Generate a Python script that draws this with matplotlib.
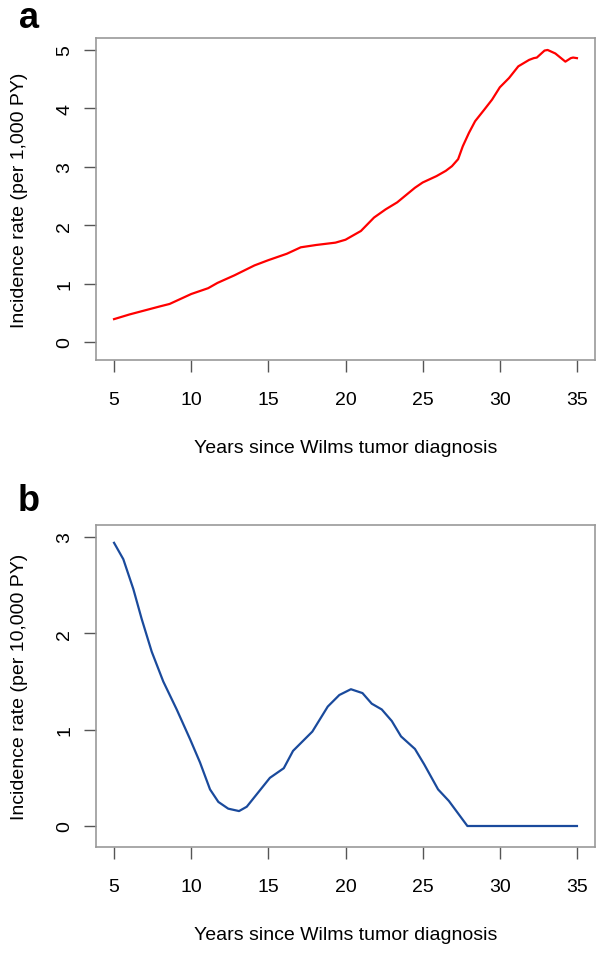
import matplotlib.pyplot as plt

plt.rcParams['font.family'] = ['Liberation Sans', 'DejaVu Sans']

# panel a: incidence rate per 1,000 PY
years_a = [5.0, 6.0, 7.0, 8.0, 8.6, 10.0, 11.1, 11.7, 12.8, 14.1, 15.0, 16.2, 17.1,
           18.1, 19.35, 20.0, 21.0, 21.85, 22.6, 23.35, 24.5, 25.0, 25.9, 26.5,
           26.9, 27.3, 27.6, 28.0, 28.4, 29.0, 29.5, 30.0, 30.6, 31.2, 31.9, 32.2,
           32.4, 32.9, 33.1, 33.6, 34.25, 34.6, 34.75, 35.0]
rate_a = [0.39, 0.47, 0.54, 0.61, 0.65, 0.82, 0.92, 1.01, 1.14, 1.31, 1.40, 1.51, 1.62,
          1.66, 1.70, 1.75, 1.90, 2.13, 2.27, 2.39, 2.64, 2.73, 2.84, 2.93,
          3.01, 3.13, 3.35, 3.58, 3.78, 3.98, 4.15, 4.36, 4.52, 4.72, 4.83, 4.86,
          4.87, 4.99, 5.00, 4.94, 4.80, 4.86, 4.87, 4.86]

# panel b: incidence rate per 10,000 PY
years_b = [5.0, 5.6, 6.25, 6.79, 7.44, 8.19, 9.06, 9.93, 10.57, 11.22, 11.76, 12.4, 13.1,
           13.6, 15.1, 16.0, 16.6, 17.85, 18.85, 19.6, 20.35, 21.1, 21.7, 22.35,
           23.0, 23.6, 24.5, 25.1, 26.0, 26.7, 27.9, 35.0]
rate_b = [2.94, 2.77, 2.46, 2.15, 1.81, 1.50, 1.21, 0.90, 0.66, 0.38, 0.25, 0.18, 0.155,
          0.20, 0.50, 0.60, 0.78, 0.98, 1.24, 1.36, 1.42, 1.38, 1.27, 1.21,
          1.09, 0.93, 0.80, 0.64, 0.38, 0.26, 0.0, 0.0]

xticks = [5, 10, 15, 20, 25, 30, 35]
xlabel = 'Years since Wilms tumor diagnosis'

fig = plt.figure(figsize=(6.04, 9.54), dpi=100)
W, H = 604, 954


def make_axes(top_px, bottom_px):
    return fig.add_axes([96 / W, 1 - bottom_px / H, (595 - 96) / W, (bottom_px - top_px) / H])


def style(ax, ylabel, yticks, ylim):
    ax.set_xlim(3.83, 36.17)
    ax.set_ylim(*ylim)
    ax.set_xticks(xticks)
    ax.set_yticks(yticks)
    for s in ax.spines.values():
        s.set_color('#999999')
        s.set_linewidth(1.2)
    ax.tick_params(direction='out', length=8.5, width=1.0, color='#555555',
                   labelsize=14)
    ax.tick_params(axis='x', pad=14)
    ax.tick_params(axis='y', labelrotation=90, pad=8)
    for lab in ax.get_yticklabels():
        lab.set_va('center')
    ax.set_xlabel(xlabel, fontsize=14, labelpad=22)
    ax.set_ylabel(ylabel, fontsize=14, labelpad=20)


ax1 = make_axes(39, 361)
ax1.plot(years_a, rate_a, color='#ff0000', lw=1.6)
style(ax1, 'Incidence rate (per 1,000 PY)', [0, 1, 2, 3, 4, 5], (-0.31, 5.205))
fig.text(29 / W, 1 - 19 / H, 'a', fontsize=26, fontweight='bold', va='center', ha='center')

ax2 = make_axes(526, 848)
ax2.plot(years_b, rate_b, color='#1a4a9c', lw=1.6)
style(ax2, 'Incidence rate (per 10,000 PY)', [0, 1, 2, 3], (-0.218, 3.125))
fig.text(29 / W, 1 - 502 / H, 'b', fontsize=26, fontweight='bold', va='center', ha='center')

fig.savefig('out.png', dpi=100)
